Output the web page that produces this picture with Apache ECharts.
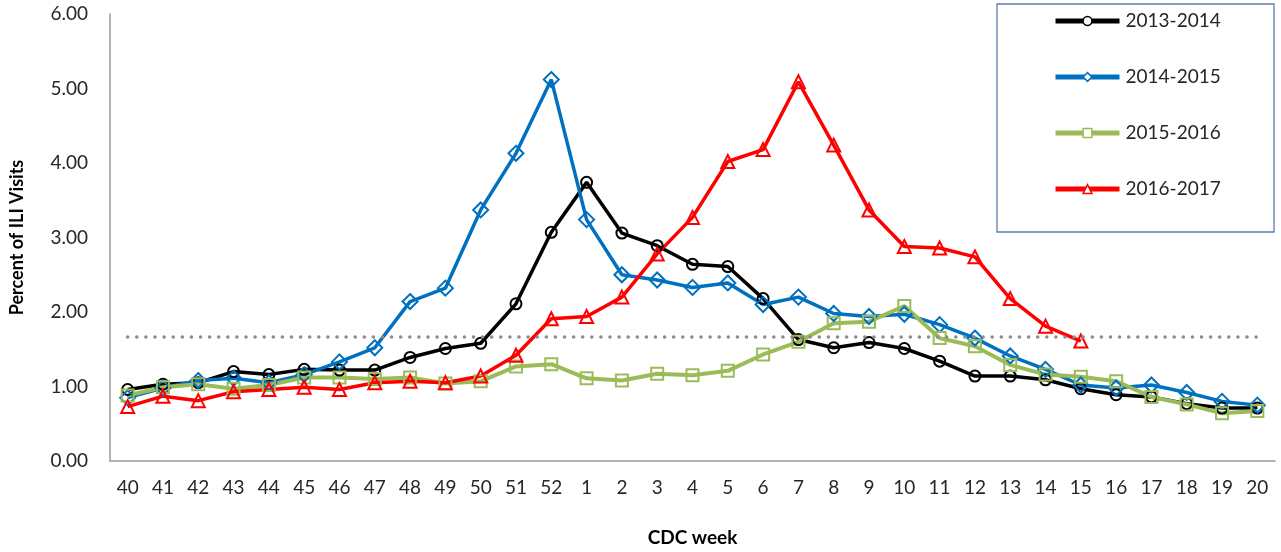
<!DOCTYPE html>
<html>
<head>
<meta charset="utf-8">
<script src="https://cdn.jsdelivr.net/npm/echarts@6/dist/echarts.min.js"></script>
<style>
  html, body { margin: 0; padding: 0; background: #fff; }
  #chart { width: 1281px; height: 552px; }
</style>
</head>
<body>
<div id="chart"></div>
<script>
// CDC weeks, season runs week 40 -> week 20
const weeks = ['40', '41', '42', '43', '44', '45', '46', '47', '48', '49', '50', '51', '52',
  '1', '2', '3', '4', '5', '6', '7', '8', '9', '10', '11', '12', '13', '14', '15', '16', '17', '18', '19', '20']

const season1314 = [0.96, 1.03, 1.05, 1.20, 1.16, 1.23, 1.22, 1.22, 1.39, 1.51, 1.58, 2.11, 3.07,
  3.74, 3.06, 2.89, 2.64, 2.61, 2.18, 1.63, 1.52, 1.59, 1.51, 1.34, 1.14, 1.14, 1.09, 0.97, 0.89, 0.86, 0.77, 0.71, 0.71]
const season1415 = [0.85, 0.98, 1.08, 1.11, 1.05, 1.16, 1.33, 1.52, 2.14, 2.32, 3.37, 4.13, 5.12,
  3.24, 2.50, 2.43, 2.33, 2.39, 2.10, 2.20, 1.98, 1.94, 1.97, 1.83, 1.65, 1.41, 1.23, 1.02, 0.98, 1.02, 0.92, 0.80, 0.75]
const season1516 = [0.88, 0.99, 1.03, 0.97, 1.02, 1.12, 1.12, 1.10, 1.12, 1.04, 1.07, 1.27, 1.30,
  1.11, 1.08, 1.17, 1.15, 1.21, 1.43, 1.60, 1.85, 1.87, 2.08, 1.65, 1.54, 1.29, 1.16, 1.13, 1.07, 0.86, 0.76, 0.64, 0.67]
const season1617 = [0.73, 0.87, 0.81, 0.93, 0.96, 0.99, 0.96, 1.05, 1.07, 1.05, 1.14, 1.42, 1.91,
  1.94, 2.20, 2.78, 3.27, 4.02, 4.18, 5.09, 4.24, 3.37, 2.88, 2.86, 2.74, 2.18, 1.81, 1.61,
  null, null, null, null, null]

// national baseline
const baseline = 1.67

const yTicks = { min: 0, max: 6, interval: 1 }

const font = 'Lato, "Open Sans", sans-serif'

const makeSeries = (name, data, color, symbol, size, width) => ({
  name,
  type: 'line',
  data,
  symbol,
  symbolSize: size,
  showSymbol: true,
  connectNulls: false,
  lineStyle: { color, width },
  itemStyle: { color: 'rgba(255,255,255,0)', borderColor: color, borderWidth: 2 },
  emphasis: { disabled: true },
  z: 3
})

const series = [
  makeSeries('2013-2014', season1314, '#000000', 'circle', 11, 3.5),
  makeSeries('2014-2015', season1415, '#0070c0', 'diamond', 15, 3.5),
  makeSeries('2015-2016', season1516, '#9bbb59', 'rect', 12, 4),
  makeSeries('2016-2017', season1617, '#ff0000', 'triangle', 13, 3.5)
]

// dotted baseline drawn along the first series
series[0].markLine = {
  silent: true,
  symbol: ['none', 'none'],
  label: { show: false },
  lineStyle: { color: '#8c8c8c', type: [0.1, 9], width: 3.5, cap: 'round' },
  data: [[
    { coord: [weeks[0], baseline] },
    { coord: [weeks[weeks.length - 1], baseline] }
  ]]
}

const chart = echarts.init(document.getElementById('chart'))
chart.setOption({
  animation: false,
  textStyle: { fontFamily: font },
  grid: { left: 102, right: 6, top: 14, bottom: 79, containLabel: false },
  graphic: [{
    type: 'rect',
    shape: { x: 997, y: 4, width: 277, height: 228 },
    style: { fill: '#fff', stroke: '#5b7fae', lineWidth: 1.3 },
    z: 10
  }],
  legend: {
    orient: 'vertical',
    left: 1048,
    top: 6,
    itemWidth: 64,
    itemHeight: 11,
    itemGap: 36,
    z: 20,
    lineStyle: { width: 5 },
    itemStyle: { color: '#ffffff', borderWidth: 1.5 },
    textStyle: { fontFamily: font, fontSize: 19, color: '#262626', lineHeight: 20, padding: [0, 0, 0, 1] },
    data: series.map(s => s.name)
  },
  xAxis: {
    type: 'category',
    data: weeks,
    boundaryGap: true,
    name: 'CDC week',
    nameLocation: 'middle',
    nameGap: 67,
    nameTextStyle: { fontFamily: font, fontSize: 19, fontWeight: 'bold', color: '#000' },
    axisLine: { lineStyle: { color: '#9a9a9a', width: 1.5 } },
    axisTick: { show: false },
    axisLabel: { margin: 17, fontSize: 19, color: '#262626', fontFamily: font, interval: 0 },
    splitLine: { show: false }
  },
  yAxis: {
    type: 'value',
    min: yTicks.min,
    max: yTicks.max,
    interval: yTicks.interval,
    name: 'Percent of ILI Visits',
    nameLocation: 'middle',
    nameRotate: 90,
    nameGap: 84,
    nameTextStyle: { fontFamily: font, fontSize: 18, fontWeight: 'bold', color: '#000' },
    axisLine: { show: true, lineStyle: { color: '#9a9a9a', width: 1.5 } },
    axisTick: { show: false },
    axisLabel: { margin: 22, fontSize: 19, color: '#262626', fontFamily: font, formatter: v => v.toFixed(2) },
    splitLine: { show: false }
  },
  series
})
</script>
</body>
</html>
